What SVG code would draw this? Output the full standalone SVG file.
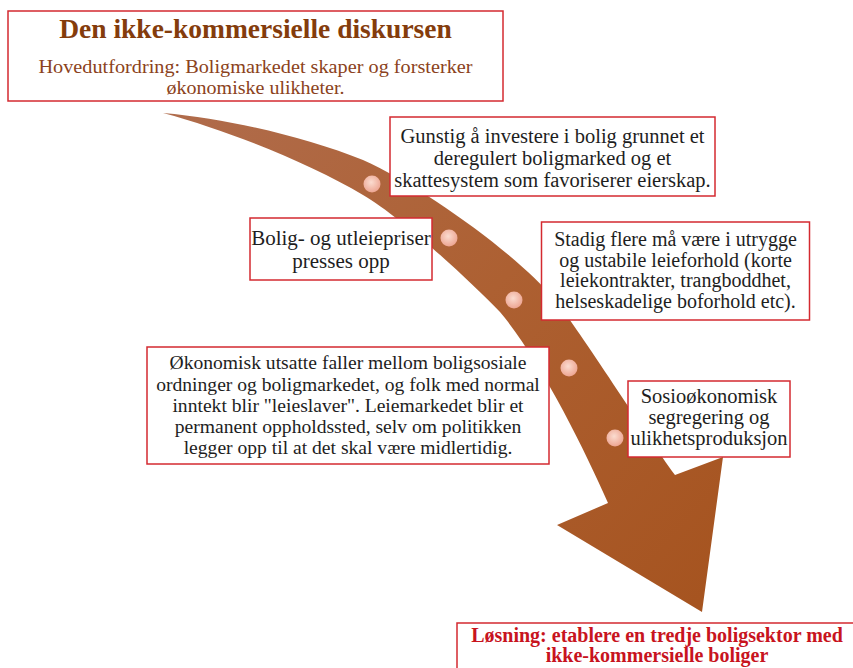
<svg xmlns="http://www.w3.org/2000/svg" width="853" height="668" viewBox="0 0 853 668">
<style>
.box{fill:#fff;stroke:#d42a30;stroke-width:1.5}
.t{font-family:"Liberation Serif","Times New Roman",serif;font-size:20.5px;fill:#1e1e1e;text-anchor:middle}
.title{font-family:"Liberation Serif","Times New Roman",serif;font-size:27.5px;font-weight:bold;fill:#843c0c;text-anchor:middle}
.sub{font-family:"Liberation Serif","Times New Roman",serif;font-size:19px;fill:#8b4220;text-anchor:middle}
.sol{font-family:"Liberation Serif","Times New Roman",serif;font-size:20px;font-weight:bold;fill:#c8141e;text-anchor:middle}
.dot{fill:url(#dg)}
</style>
<defs>
<linearGradient id="ag" x1="163" y1="113" x2="700" y2="600" gradientUnits="userSpaceOnUse">
<stop offset="0" stop-color="#b06c4c"/>
<stop offset="0.5" stop-color="#ad6032"/>
<stop offset="1" stop-color="#a65420"/>
</linearGradient>
<radialGradient id="dg" cx="0.45" cy="0.4" r="0.6">
<stop offset="0" stop-color="#fbdcd0"/>
<stop offset="1" stop-color="#eda592"/>
</radialGradient>
</defs>
<g id="connectors">
<path id="arrow" fill="url(#ag)" d="M163,113 C230,119 305,137 363,160 C423,187 517,254 555,300 C580,331 646,435 675,475 L723,457 L702,612 L557,525 L608,503 C584,448 539,358 500,312 C465,276 402,218 363,195 C311,164 230,131 163,113 Z"/>
<circle class="dot" cx="372" cy="184" r="8.5"/>
<circle class="dot" cx="449" cy="238" r="8.5"/>
<circle class="dot" cx="514" cy="300" r="8.5"/>
<circle class="dot" cx="569" cy="368" r="8.5"/>
<circle class="dot" cx="615" cy="438" r="8.5"/>
</g>
<g id="header">
<rect class="box" x="8" y="11" width="495" height="90"/>
<text class="title" x="255.5" y="38">Den ikke-kommersielle diskursen</text>
<text class="sub" x="255.5" y="73" textLength="434" lengthAdjust="spacingAndGlyphs">Hovedutfordring: Boligmarkedet skaper og forsterker</text>
<text class="sub" x="255.5" y="93.5" textLength="178" lengthAdjust="spacingAndGlyphs">økonomiske ulikheter.</text>
</g>
<g id="n1">
<rect class="box" x="390" y="117" width="325" height="79"/>
<text class="t" x="552.5" y="143">Gunstig å investere i bolig grunnet et</text>
<text class="t" x="552.5" y="165">deregulert boligmarked og et</text>
<text class="t" x="552.5" y="187">skattesystem som favoriserer eierskap.</text>
</g>
<g id="n2">
<rect class="box" x="250" y="218" width="182" height="62"/>
<text class="t" x="341" y="245" style="font-size:21px">Bolig- og utleiepriser</text>
<text class="t" x="341" y="268" style="font-size:21px">presses opp</text>
</g>
<g id="n3">
<rect class="box" x="541.5" y="222" width="268" height="98"/>
<text class="t" x="675.5" y="246" style="font-size:20px">Stadig flere må være i utrygge</text>
<text class="t" x="675.5" y="266.5" style="font-size:20px">og ustabile leieforhold (korte</text>
<text class="t" x="675.5" y="287" style="font-size:20px">leiekontrakter, trangboddhet,</text>
<text class="t" x="675.5" y="307.5" style="font-size:20px">helseskadelige boforhold etc).</text>
</g>
<g id="n4">
<rect class="box" x="147" y="347" width="402" height="117"/>
<text class="t" x="348" y="369" style="font-size:19.6px">Økonomisk utsatte faller mellom boligsosiale</text>
<text class="t" x="348" y="391" style="font-size:19.6px">ordninger og boligmarkedet, og folk med normal</text>
<text class="t" x="348" y="412" style="font-size:19.6px">inntekt blir "leieslaver". Leiemarkedet blir et</text>
<text class="t" x="348" y="433" style="font-size:19.6px">permanent oppholdssted, selv om politikken</text>
<text class="t" x="348" y="454" style="font-size:19.6px">legger opp til at det skal være midlertidig.</text>
</g>
<g id="n5">
<rect class="box" x="628" y="381" width="162" height="76"/>
<text class="t" x="709" y="403">Sosioøkonomisk</text>
<text class="t" x="709" y="423.5">segregering og</text>
<text class="t" x="709" y="444.5">ulikhetsproduksjon</text>
</g>
<g id="solution">
<rect class="box" x="457" y="623" width="410" height="60"/>
<text class="sol" x="657" y="642">Løsning: etablere en tredje boligsektor med</text>
<text class="sol" x="657" y="662">ikke-kommersielle boliger</text>
</g>
</svg>
